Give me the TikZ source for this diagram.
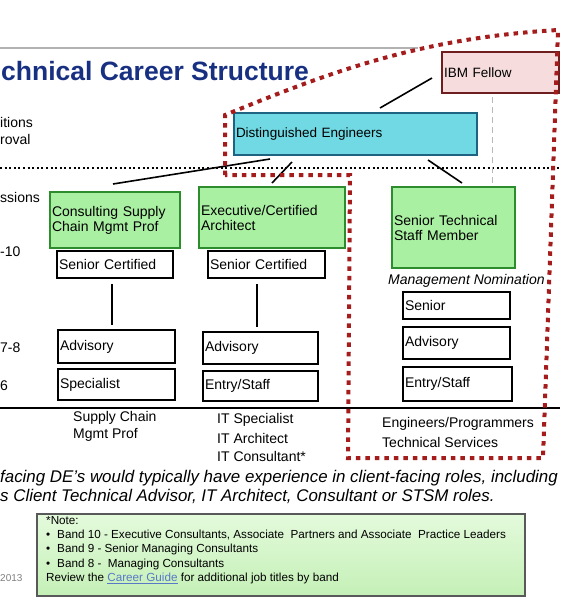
\documentclass[tikz,border=0pt]{standalone}
\usepackage{fontspec}
\usetikzlibrary{calc}
\setmainfont{Liberation Sans}
\newcommand{\fsz}[2]{\fontsize{#1}{#2}\selectfont}
\definecolor{titleblue}{RGB}{24,48,130}
\definecolor{ibmfill}{RGB}{246,220,220}
\definecolor{ibmred}{RGB}{110,30,30}
\definecolor{decyan}{RGB}{112,217,227}
\definecolor{deborder}{RGB}{30,100,130}
\definecolor{fillgreen}{RGB}{170,240,162}
\definecolor{boxgreen}{RGB}{45,140,45}
\definecolor{reddot}{RGB}{165,28,28}
\definecolor{notetop}{RGB}{228,250,220}
\definecolor{notebot}{RGB}{196,240,182}
\definecolor{linkblue}{RGB}{90,120,200}
\begin{document}
\begin{tikzpicture}[x=1pt,y=-1pt,
  lbl/.style={inner sep=0pt, anchor=west, font=\fsz{14}{16}},
  wbox/.style 2 args={draw=black, line width=2pt, fill=white, anchor=north west,
    outer sep=0pt, inner xsep=2pt, inner ysep=0pt, minimum width=#1pt,
    minimum height=#2pt, text width=#1pt-4pt, align=left, font=\fsz{14}{15}},
  gbox/.style 2 args={wbox={#1}{#2}, draw=boxgreen, fill=fillgreen, line width=1.5pt},
  conn/.style={draw=black, line width=1.6pt},
  reddotted/.style={draw=reddot, line width=4pt, dash pattern=on 4.5pt off 5pt},
]
\useasboundingbox (0,0) rectangle (560,600);
\fill[white] (0,0) rectangle (560,600);

% header rule and title
\coordinate (rulel) at (0,48);
\coordinate (ruler) at (418,48);
\draw[gray!60, line width=1.5pt] (rulel) -- (ruler);
\node[anchor=base west, inner sep=0pt, font=\fsz{26.5}{27}\bfseries, text=titleblue] (title) at (1,80) {chnical Career Structure};

% dotted separators
\coordinate (dl) at (0,168);
\coordinate (dr) at (560,168);
\draw[black, line width=2pt, dash pattern=on 2pt off 2.6pt] (dl) -- (dr);
\coordinate (gt) at (492,97);
\coordinate (gb) at (492,183);
\draw[gray!55, line width=0.8pt, dash pattern=on 6pt off 4pt] (gt) -- (gb);
\coordinate (sl) at (0,408);
\coordinate (sr) at (560,408);
\draw[black, line width=1.6pt] (sl) -- (sr);

% left labels
\node[lbl] (l1) at (0,122) {itions};
\node[lbl] (l2) at (0,139) {roval};
\node[lbl] (l3) at (0,197) {ssions};
\node[lbl] (l4) at (0,252) {-10};
\node[lbl] (l5) at (0,348) {7-8};
\node[lbl] (l6) at (0,386) {6};

% top boxes
\node[wbox={117}{41}, draw=ibmred, fill=ibmfill, line width=1.8pt, font=\fsz{13.5}{15}] (ibm) at (442,52) {IBM Fellow};
\node[wbox={243}{42}, draw=deborder, fill=decyan, line width=1.5pt, font=\fsz{13.5}{15}] (de) at (234,113) {Distinguished Engineers};

% green boxes
\node[gbox={130}{56}] (g1) at (50,192) {Consulting Supply\\Chain Mgmt Prof};
\node[gbox={146}{61}] (g2) at (199,187) {Executive/Certified\\Architect};
\node[gbox={123}{81}] (g3) at (392,187) {Senior Technical\\Staff Member};

% white boxes
\node[wbox={116}{27}] (sc1) at (57,251) {Senior Certified};
\node[wbox={117}{27}] (sc2) at (208,251) {Senior Certified};
\node[wbox={117}{33}] (adv1) at (58,330) {Advisory};
\node[wbox={117}{31}] (spec1) at (58,369) {Specialist};
\node[wbox={115}{32}] (adv2) at (203,332) {Advisory};
\node[wbox={115}{30}] (ent2) at (203,371) {Entry/Staff};
\node[wbox={107}{27}] (sen3) at (403,292) {Senior};
\node[wbox={107}{32}] (adv3) at (403,327) {Advisory};
\node[wbox={109}{34}] (ent3) at (403,367) {Entry/Staff};

\node[lbl, font=\fsz{14}{16}\itshape] (mgmt) at (388,281) {Management Nomination};

% connectors
\draw[conn] ($(ibm.north west)+(-10,26)$) -- ($(de.north west)+(146,-5)$);
\draw[conn] ($(de.south west)+(36,4)$) -- ($(g1.north west)+(63,-8)$);
\draw[conn] ($(de.south west)+(58,7)$) -- ($(g2.north west)+(73,-4)$);
\draw[conn] ($(de.south west)+(194,5)$) -- ($(g3.north west)+(70,-4)$);
\draw[conn] ($(sc1.south west)+(55,6)$) -- ($(adv1.north west)+(54,-5)$);
\draw[conn] ($(sc2.south west)+(49,6)$) -- ($(adv2.north west)+(54,-5)$);

% bottom labels
\node[lbl] (b1) at (73,418) {Supply Chain};
\node[lbl] (b2) at (73,435) {Mgmt Prof};
\node[lbl] (b3) at (217,420) {IT Specialist};
\node[lbl] (b4) at (217,438) {IT Architect};
\node[lbl] (b5) at (217,456) {IT Consultant*};
\node[lbl] (b6) at (382,424) {Engineers/Programmers};
\node[lbl] (b7) at (382,442) {Technical Services};

% red dotted outline
\coordinate (r1) at (225,175);
\coordinate (r2) at (225,115);
\coordinate (r3) at (558,30);
\coordinate (r4) at (543,458);
\coordinate (r5) at (348,458);
\coordinate (r6) at (350,175);
\draw[reddotted] (r1) -- (r2) .. controls (330,72) and (420,38) .. (r3) -- (r4) -- (r5) -- (r6) -- cycle;

% italic statement
\node[anchor=base west, inner sep=0pt, font=\fsz{16.9}{19}\itshape] (s1) at (0,482.5) {facing DE's would typically have experience in client-facing roles, including};
\node[anchor=base west, inner sep=0pt, font=\fsz{16.9}{19}\itshape] (s2) at (0,501) {s Client Technical Advisor, IT Architect, Consultant or STSM roles.};

% note box
\node[anchor=north west, outer sep=0pt, draw=gray!70!black, line width=1.2pt, top color=notetop, bottom color=notebot, minimum width=488pt, minimum height=82pt] (note) at (37,514) {};
\node[anchor=north west, inner sep=0pt, align=left, font=\fsz{11.7}{14.3}] (notetext) at (46,516) {*Note:\\
\makebox[11pt][l]{\textbullet}Band 10 - Executive Consultants, Associate\ \ Partners and Associate\ \ Practice Leaders\\
\makebox[11pt][l]{\textbullet}Band 9 - Senior Managing Consultants\\
\makebox[11pt][l]{\textbullet}Band 8 -\ \ Managing Consultants\\
Review the \textcolor{linkblue}{\underline{Career Guide}} for additional job titles by band};
\node[lbl, font=\fsz{10}{12}, text=gray] (yr) at (0,578) {2013};
\end{tikzpicture}
\end{document}
